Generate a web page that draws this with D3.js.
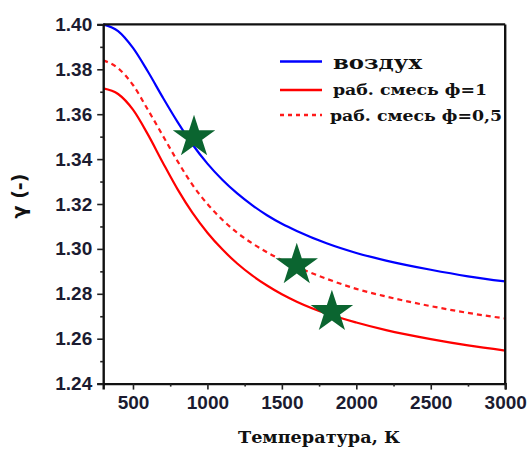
<!DOCTYPE html>
<html>
<head>
<meta charset="utf-8">
<script src="https://cdn.jsdelivr.net/npm/d3@7/dist/d3.min.js"></script>
<style>
  html, body { margin: 0; padding: 0; background: #fff; }
  svg { display: block; }
</style>
</head>
<body>
<svg id="chart" width="531" height="449"></svg>
<script>
// Temperature grid, K
const temps = [300, 400, 500, 600, 700, 800, 900, 1000, 1100, 1200, 1300, 1400, 1500, 1600, 1800, 2000, 2200, 2500, 2750, 3000];
// Adiabatic index γ for air
const gammaAir = [1.4000, 1.3970, 1.3895, 1.3790, 1.3675, 1.3565, 1.3465, 1.3380, 1.3308, 1.3247, 1.3195, 1.3150, 1.3112, 1.3080, 1.3025, 1.2982, 1.2948, 1.2907, 1.2878, 1.2855];
// Working mixture, φ = 1
const gammaMix1 = [1.3715, 1.3690, 1.3620, 1.3510, 1.3385, 1.3265, 1.3160, 1.3072, 1.2998, 1.2935, 1.2882, 1.2837, 1.2798, 1.2765, 1.2712, 1.2672, 1.2638, 1.2598, 1.2570, 1.2547];
// Working mixture, φ = 0.5
const gammaMix05 = [1.3840, 1.3805, 1.3730, 1.3620, 1.3505, 1.3390, 1.3285, 1.3200, 1.3130, 1.3072, 1.3025, 1.2985, 1.2950, 1.2920, 1.2867, 1.2822, 1.2788, 1.2745, 1.2715, 1.2690];
// Marked operating points
const starT = [910, 1600, 1836];
const starGamma = [1.3498, 1.2928, 1.2719];
// Axis ticks
const xTicks = [500, 1000, 1500, 2000, 2500, 3000];
const xMinor = [750, 1250, 1750, 2250, 2750];
const yTicks = [1.24, 1.26, 1.28, 1.30, 1.32, 1.34, 1.36, 1.38, 1.40];
const yMinor = [1.25, 1.27, 1.29, 1.31, 1.33, 1.35, 1.37, 1.39];
const legendLabels = ["воздух", "раб. смесь ф=1", "раб. смесь ф=0,5"];

const svg = d3.select("#chart");
const plotL = 103.2, plotR = 505.2, plotT = 24.4, plotB = 383.6;

const x = d3.scaleLinear().domain([300, 3000]).range([plotL, plotR]);
const y = d3.scaleLinear().domain([1.24, 1.40]).range([plotB, plotT]);

const tickFont = "'Liberation Sans', Arial, sans-serif";
const serifFont = "'DejaVu Serif', 'Liberation Serif', serif";

// Curves
const line = d3.line()
  .x(d => x(d[0]))
  .y(d => y(d[1]))
  .curve(d3.curveMonotoneX);

const series = [
  { vals: gammaAir, color: "#0000ff", dash: null },
  { vals: gammaMix1, color: "#ff0000", dash: null },
  { vals: gammaMix05, color: "#ff1a1a", dash: "5,4" }
];

svg.append("defs").append("clipPath").attr("id", "plotclip")
  .append("rect").attr("x", plotL).attr("y", plotT - 2).attr("width", plotR - plotL).attr("height", plotB - plotT + 2);

const plot = svg.append("g").attr("clip-path", "url(#plotclip)");
series.forEach(s => {
  plot.append("path")
    .datum(temps.map((t, i) => [t, s.vals[i]]))
    .attr("d", line)
    .attr("fill", "none")
    .attr("stroke", s.color)
    .attr("stroke-width", 2.2)
    .attr("stroke-dasharray", s.dash);
});

// Stars
const star = d3.symbol().type(d3.symbolStar).size(560);
svg.append("g").selectAll("path.star")
  .data(starT.map((t, i) => [t, starGamma[i]]))
  .join("path")
  .attr("class", "star")
  .attr("d", star)
  .attr("transform", d => `translate(${x(d[0])},${y(d[1])})`)
  .attr("fill", "#0b6530");

// Frame (top & right)
svg.append("line").attr("x1", plotL).attr("x2", plotR).attr("y1", plotT).attr("y2", plotT)
  .attr("stroke", "#111").attr("stroke-width", 2.4);
svg.append("line").attr("x1", plotR).attr("x2", plotR).attr("y1", plotT).attr("y2", plotB)
  .attr("stroke", "#111").attr("stroke-width", 2.4);

// X axis
svg.append("g").attr("transform", `translate(0,${plotB})`)
  .call(d3.axisBottom(x).tickValues(xTicks).tickSize(6).tickPadding(6).tickFormat(d3.format("d")));
svg.append("g").attr("transform", `translate(0,${plotB})`)
  .call(d3.axisBottom(x).tickValues(xMinor).tickSize(3).tickFormat(""))
  .call(g => g.select(".domain").remove());

// Y axis
svg.append("g").attr("transform", `translate(${plotL},0)`)
  .call(d3.axisLeft(y).tickValues(yTicks).tickSize(6).tickPadding(5).tickFormat(d3.format(".2f")));
svg.append("g").attr("transform", `translate(${plotL},0)`)
  .call(d3.axisLeft(y).tickValues(yMinor).tickSize(3).tickFormat(""))
  .call(g => g.select(".domain").remove());

svg.selectAll(".domain").attr("stroke", "#111").attr("stroke-width", 2.4);
svg.selectAll(".tick line").attr("stroke", "#222").attr("stroke-width", 1.6);
svg.selectAll(".tick text")
  .attr("font-family", tickFont)
  .attr("font-weight", "bold")
  .attr("font-size", 19)
  .attr("fill", "#1b1b30");

// Axis titles
svg.append("text")
  .attr("transform", "translate(26,196) rotate(-90)")
  .attr("text-anchor", "middle")
  .attr("font-family", "'DejaVu Sans', sans-serif")
  .attr("font-weight", "bold")
  .attr("font-size", 19)
  .attr("fill", "#111")
  .text("γ (-)");

svg.append("text")
  .attr("x", 238).attr("y", 443)
  .attr("textLength", 162)
  .attr("lengthAdjust", "spacingAndGlyphs")
  .attr("font-family", serifFont)
  .attr("font-weight", "bold")
  .attr("font-size", 16)
  .attr("fill", "#111")
  .text("Температура, К");

// Legend
const legend = [
  { y: 61.5, color: "#0000ff", dash: null, tx: 333, ty: 69, size: 19, len: 89 },
  { y: 90, color: "#ff0000", dash: null, tx: 333, ty: 95, size: 15, len: 154 },
  { y: 115, color: "#ff1a1a", dash: "4,4", tx: 330, ty: 120.5, size: 15, len: 172 }
];
const lg = svg.append("g");
legend.forEach((l, i) => {
  lg.append("line")
    .attr("x1", 280).attr("x2", 322).attr("y1", l.y).attr("y2", l.y)
    .attr("stroke", l.color).attr("stroke-width", 2.4)
    .attr("stroke-dasharray", l.dash);
  lg.append("text")
    .attr("x", l.tx).attr("y", l.ty)
    .attr("textLength", l.len)
    .attr("lengthAdjust", "spacingAndGlyphs")
    .attr("font-family", serifFont)
    .attr("font-weight", "bold")
    .attr("font-size", l.size)
    .attr("fill", "#111")
    .text(legendLabels[i]);
});
</script>
</body>
</html>
